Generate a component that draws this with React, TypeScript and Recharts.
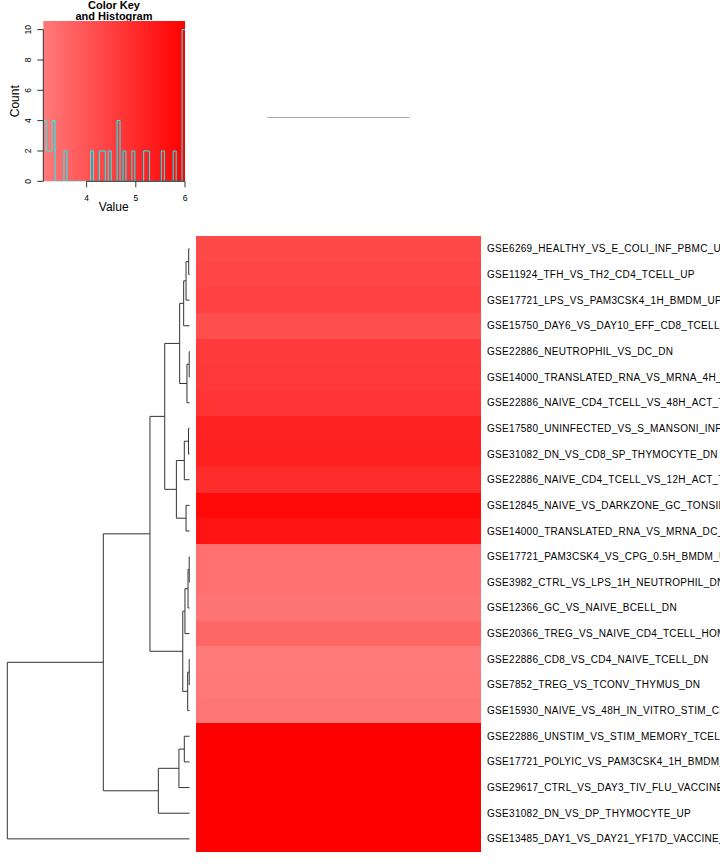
import React from "react";
import {
  BarChart,
  Bar,
  Cell,
  ComposedChart,
  Line,
  ReferenceArea,
  ReferenceLine,
  ScatterChart,
  Scatter,
  XAxis,
  YAxis,
} from "recharts";

const FONT = "'Liberation Sans', Arial, Helvetica, sans-serif";

// gene sets, top to bottom in the order the row dendrogram puts them
const rowLabels = [
  "GSE6269_HEALTHY_VS_E_COLI_INF_PBMC_UP",
  "GSE11924_TFH_VS_TH2_CD4_TCELL_UP",
  "GSE17721_LPS_VS_PAM3CSK4_1H_BMDM_UP",
  "GSE15750_DAY6_VS_DAY10_EFF_CD8_TCELL_UP",
  "GSE22886_NEUTROPHIL_VS_DC_DN",
  "GSE14000_TRANSLATED_RNA_VS_MRNA_4H_LPS_DC_DN",
  "GSE22886_NAIVE_CD4_TCELL_VS_48H_ACT_TH1_UP",
  "GSE17580_UNINFECTED_VS_S_MANSONI_INF_MACROPHAGE_UP",
  "GSE31082_DN_VS_CD8_SP_THYMOCYTE_DN",
  "GSE22886_NAIVE_CD4_TCELL_VS_12H_ACT_TH2_UP",
  "GSE12845_NAIVE_VS_DARKZONE_GC_TONSIL_BCELL_DN",
  "GSE14000_TRANSLATED_RNA_VS_MRNA_DC_DN",
  "GSE17721_PAM3CSK4_VS_CPG_0.5H_BMDM_UP",
  "GSE3982_CTRL_VS_LPS_1H_NEUTROPHIL_DN",
  "GSE12366_GC_VS_NAIVE_BCELL_DN",
  "GSE20366_TREG_VS_NAIVE_CD4_TCELL_HOMEOSTATIC_CONVERSION_UP",
  "GSE22886_CD8_VS_CD4_NAIVE_TCELL_DN",
  "GSE7852_TREG_VS_TCONV_THYMUS_DN",
  "GSE15930_NAIVE_VS_48H_IN_VITRO_STIM_CD8_TCELL_DN",
  "GSE22886_UNSTIM_VS_STIM_MEMORY_TCELL_DN",
  "GSE17721_POLYIC_VS_PAM3CSK4_1H_BMDM_DN",
  "GSE29617_CTRL_VS_DAY3_TIV_FLU_VACCINE_PBMC_2008_UP",
  "GSE31082_DN_VS_DP_THYMOCYTE_UP",
  "GSE13485_DAY1_VS_DAY21_YF17D_VACCINE_PBMC_DN",
];

// value of each gene set (both heatmap columns hold the same value)
const rowValues = [
  4.29, 4.35, 4.47, 4.1, 4.64, 4.66, 4.77, 5.19, 5.25, 4.95, 5.79, 5.55,
  3.33, 3.34, 3.27, 3.56, 3.12, 3.15, 3.21, 6.0, 6.0, 6.0, 6.0, 6.0,
];
const heatColumns = ["c1", "c2"];

// row dendrogram, hclust style: negative = leaf row (1-based), positive = earlier merge
const mergeLeft = [-1, 1, 2, -5, 4, 3, -8, 7, -11, 8, 6, -13, 12, 13, -17, 15, 14, 11, -20, 19, 20, 18, 22];
const mergeRight = [-2, -3, -4, -6, -7, 5, -9, -10, -12, 9, 10, -14, -15, -16, -18, -19, 16, 17, -21, -22, -23, 21, -24];
const mergeHeight = [
  0.044, 0.19, 0.32, 0.016, 0.14, 0.54, 0.055, 0.285, 0.19, 0.72, 1.36, 0.016,
  0.08, 0.25, 0.016, 0.1, 0.37, 2.17, 0.285, 0.58, 1.71, 4.73, 10.0,
];

// column dendrogram: the two columns join at height 0
const colMergeHeight = 0;

// color key + histogram
const keyBins = 48;
const keyXTicks = [4, 5, 6];
const keyYTicks = [0, 2, 4, 6, 8, 10];
const keyYTop = 10.57;
const keyLow = [255, 122, 122];
const keyHigh = [255, 0, 0];

const keyMin = Math.min(...rowValues);
const keyMax = Math.max(...rowValues);

const rgb = (c: number[]) => `rgb(${c.map((v) => Math.round(v)).join(",")})`;

function heatColor(v: number) {
  const t = (v - keyMin) / (keyMax - keyMin);
  return rgb(keyLow.map((lo, i) => lo + (keyHigh[i] - lo) * t));
}

// histogram of all heatmap cells
const binWidth = (keyMax - keyMin) / keyBins;
const binCounts = new Array(keyBins).fill(0);
rowValues.forEach((v) => {
  let b = Math.ceil((v - keyMin) / binWidth - 1e-9) - 1;
  b = Math.max(0, Math.min(keyBins - 1, b));
  binCounts[b] += heatColumns.length;
});
const histPoints = binCounts.map((c, i) => ({ value: keyMin + i * binWidth, count: c }));
histPoints.push({ value: keyMax, count: binCounts[keyBins - 1] });

// dendrogram geometry (leaf index / merge height)
const nodePos: number[] = [];
const posOf = (ref: number) => (ref < 0 ? -ref - 1 : nodePos[ref - 1]);
const heightOf = (ref: number) => (ref < 0 ? 0 : mergeHeight[ref - 1]);
mergeLeft.forEach((l, i) => {
  nodePos[i] = (posOf(l) + posOf(mergeRight[i])) / 2;
});
const dendroSegments = mergeLeft.map((l, i) => {
  const r = mergeRight[i];
  const h = mergeHeight[i];
  return [
    { h: heightOf(l), pos: posOf(l) },
    { h, pos: posOf(l) },
    { h, pos: posOf(r) },
    { h: heightOf(r), pos: posOf(r) },
  ];
});

const heatRows = rowLabels.map((label, i) => {
  const row: any = { label, value: rowValues[i] };
  heatColumns.forEach((c) => (row[c] = 1));
  return row;
});

const KeyYTick = (p: any) => (
  <text
    x={p.x}
    y={p.y}
    transform={`rotate(-90 ${p.x} ${p.y})`}
    textAnchor="middle"
    fontSize={8.5}
    fill="#000"
  >
    {p.payload.value}
  </text>
);

const RowTick = (p: any) => (
  <text x={p.x} y={p.y} dy="0.35em" textAnchor="start" fontSize={10} letterSpacing={0.3} fill="#000">
    {p.payload.value}
  </text>
);

function ColorKey() {
  return (
    <ComposedChart width={200} height={220} data={histPoints} margin={{ top: 21, right: 15, bottom: 0, left: 0 }}>
      <defs>
        <linearGradient id="keyGrad" x1="0" y1="0" x2="1" y2="0">
          <stop offset="0%" stopColor={rgb(keyLow)} />
          <stop offset="100%" stopColor={rgb(keyHigh)} />
        </linearGradient>
      </defs>
      <XAxis
        type="number"
        dataKey="value"
        domain={[keyMin, keyMax]}
        ticks={keyXTicks}
        height={38.7}
        axisLine={false}
        tickLine={{ stroke: "#333" }}
        tickSize={6}
        tickMargin={8}
        tick={{ fontSize: 8.5, fill: "#000" }}
        allowDataOverflow
      />
      <YAxis
        type="number"
        domain={[0, keyYTop]}
        ticks={keyYTicks}
        width={43.3}
        axisLine={false}
        tickLine={{ stroke: "#333" }}
        tickSize={6}
        tickMargin={6}
        tick={KeyYTick}
        allowDataOverflow
      />
      <ReferenceArea
        x1={keyMin}
        x2={keyMax}
        y1={0}
        y2={keyYTop}
        fill="url(#keyGrad)"
        fillOpacity={1}
        stroke="none"
      />
      <Line
        type="stepAfter"
        dataKey="count"
        stroke="#00ffff"
        strokeWidth={1}
        dot={false}
        activeDot={false}
        isAnimationActive={false}
      />
      <ReferenceLine
        segment={[
          { x: keyXTicks[0], y: 0 },
          { x: keyXTicks[keyXTicks.length - 1], y: 0 },
        ]}
        stroke="#333"
      />
      <ReferenceLine
        segment={[
          { x: keyMin, y: keyYTicks[0] },
          { x: keyMin, y: keyYTicks[keyYTicks.length - 1] },
        ]}
        stroke="#333"
      />
      <text x={114} y={8.5} textAnchor="middle" fontSize={11} fontWeight="bold" fill="#000">
        Color Key
      </text>
      <text x={114} y={20.3} textAnchor="middle" fontSize={11} fontWeight="bold" fill="#000">
        and Histogram
      </text>
      <text x={113.7} y={211} textAnchor="middle" fontSize={12} fill="#000">
        Value
      </text>
      <text x={19.5} y={101.2} transform="rotate(-90 19.5 101.2)" textAnchor="middle" fontSize={12} fill="#000">
        Count
      </text>
    </ComposedChart>
  );
}

function ColumnDendrogram() {
  const colPos = heatColumns.map((_, i) => i + 0.5);
  const mid = colPos.reduce((a, b) => a + b, 0) / colPos.length;
  const segs = colPos.map((p) => [
    { c: mid, h: colMergeHeight },
    { c: p, h: colMergeHeight },
    { c: p, h: 0 },
  ]);
  return (
    <ScatterChart width={285} height={19} margin={{ top: 0, right: 0, bottom: 0, left: 0 }}>
      <XAxis type="number" dataKey="c" domain={[0, heatColumns.length]} hide />
      <YAxis type="number" dataKey="h" domain={[0, 1]} hide />
      {segs.map((s, i) => (
        <Scatter
          key={i}
          data={s}
          line={{ stroke: "#555", strokeWidth: 1 }}
          shape={() => <g />}
          isAnimationActive={false}
        />
      ))}
    </ScatterChart>
  );
}

function RowDendrogram() {
  return (
    <ScatterChart width={196} height={634} margin={{ top: 6, right: 6.5, bottom: 12.3, left: 7.3 }}>
      <XAxis type="number" dataKey="h" domain={[0, mergeHeight[mergeHeight.length - 1]]} reversed hide />
      <YAxis type="number" dataKey="pos" domain={[-0.5, rowLabels.length - 0.5]} reversed hide />
      {dendroSegments.map((s, i) => (
        <Scatter
          key={i}
          data={s}
          line={{ stroke: "#333", strokeWidth: 1 }}
          shape={() => <g />}
          isAnimationActive={false}
        />
      ))}
    </ScatterChart>
  );
}

function Heatmap() {
  return (
    <BarChart
      layout="vertical"
      width={524}
      height={634}
      data={heatRows}
      margin={{ top: 6, right: 0, bottom: 12.3, left: 0 }}
      barCategoryGap={0}
      barGap={0}
    >
      <XAxis type="number" domain={[0, heatColumns.length]} hide />
      <YAxis
        type="category"
        dataKey="label"
        orientation="right"
        width={239}
        axisLine={false}
        tickLine={false}
        tickSize={0}
        tickMargin={6}
        interval={0}
        tick={RowTick}
      />
      {heatColumns.map((c) => (
        <Bar key={c} dataKey={c} stackId="heat" isAnimationActive={false}>
          {heatRows.map((r, i) => (
            <Cell key={i} fill={heatColor(r.value)} shapeRendering="crispEdges" />
          ))}
        </Bar>
      ))}
    </BarChart>
  );
}

export default function App() {
  return (
    <div
      style={{
        position: "absolute",
        left: 0,
        top: 0,
        width: 720,
        height: 864,
        overflow: "hidden",
        background: "#fff",
        fontFamily: FONT,
      }}
    >
      <div style={{ position: "absolute", left: 0, top: 0 }}>
        <ColorKey />
      </div>
      <div style={{ position: "absolute", left: 196, top: 99 }}>
        <ColumnDendrogram />
      </div>
      <div style={{ position: "absolute", left: 0, top: 230 }}>
        <RowDendrogram />
      </div>
      <div style={{ position: "absolute", left: 196, top: 230 }}>
        <Heatmap />
      </div>
    </div>
  );
}
